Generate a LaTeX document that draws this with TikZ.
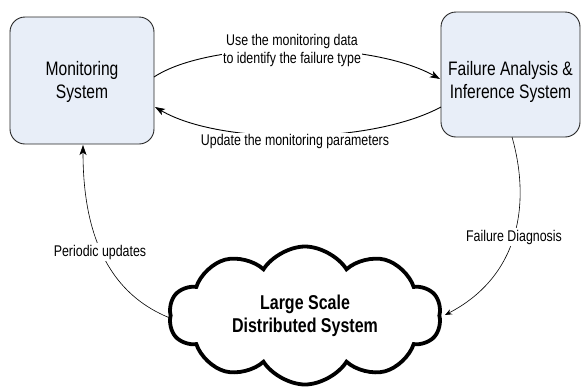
\documentclass[tikz,border=0pt]{standalone}
\usepackage{fontspec}
\setmainfont{Liberation Sans}[FakeStretch=0.8]
\usetikzlibrary{shapes.symbols,arrows.meta}
\definecolor{boxfill}{HTML}{E8EEF8}
\tikzset{
  sysbox/.style={draw=black!85, line width=0.9pt, fill=boxfill, rounded corners=15pt, inner sep=0pt},
  boxtext/.style={align=center, font=\fontsize{19.5}{22.5}\selectfont, inner sep=0pt},
  flowlabel/.style={align=center, font=\fontsize{15.5}{18}\selectfont, fill=white, inner sep=1.5pt},
  mainflow/.style={line width=0.9pt, -{Stealth[length=10pt,width=7pt,inset=2.5pt]}},
  thinflow/.style={line width=0.6pt},
  cloudbox/.style={cloud, cloud puffs=10, cloud puff arc=115, aspect=2, draw=black, line width=3.8pt, fill=white, inner sep=0pt},
}
\begin{document}
\begin{tikzpicture}[x=1pt,y=-1pt]
  \useasboundingbox (0,0) rectangle (581,389);

  % the two system boxes
  \node[sysbox, minimum width=144pt, minimum height=127pt] (mon) at (82,80.5) {};
  \node[boxtext] (montext) at (82,82) {Monitoring\\System};
  \node[sysbox, minimum width=139pt, minimum height=125pt] (fail) at (510.5,74.5) {};
  \node[boxtext] (failtext) at (510.5,82) {Failure Analysis \&\\Inference System};

  % the monitored system
  \node[cloudbox, minimum width=272pt, minimum height=138pt] (lsds) at (305,315.5) {};
  \node[align=center, font=\fontsize{20}{23}\selectfont\bfseries, inner sep=0pt] (lsdstext) at (305,316) {Large Scale\\Distributed System};

  % anchor points on the outlines
  \coordinate (m1) at (154,77);
  \coordinate (f1) at (440,79);
  \coordinate (f2) at (441,107);
  \coordinate (m2) at (155,107);
  \coordinate (f3) at (512,137);
  \coordinate (c1) at (445,315);
  \coordinate (c2) at (170,318);
  \coordinate (m3) at (83,145);

  % monitoring data to the analysis system
  \draw[mainflow] (m1) .. controls (210,40) and (370,40) .. (f1);
  \node[flowlabel] (lbluse) at (292,50) {Use the monitoring data\\to identify the failure type};

  % parameter updates back to monitoring
  \draw[mainflow] (f2) .. controls (370,145) and (220,145) .. (m2);
  \node[flowlabel] (lblupd) at (295,141.5) {Update the monitoring parameters};

  % diagnosis down to the distributed system
  \draw[thinflow, -{Stealth[length=7pt,width=5.5pt,inset=2.5pt]}] (f3) .. controls (530,200) and (522,275) .. (c1);
  \node[flowlabel] (lbldiag) at (514,237) {Failure Diagnosis};

  % periodic updates up to monitoring
  \draw[thinflow, -{Stealth[length=10pt,width=7pt,inset=2.5pt]}] (c2) .. controls (100,290) and (83,220) .. (m3);
  \node[flowlabel] (lblper) at (100,252) {Periodic updates};
\end{tikzpicture}
\end{document}
